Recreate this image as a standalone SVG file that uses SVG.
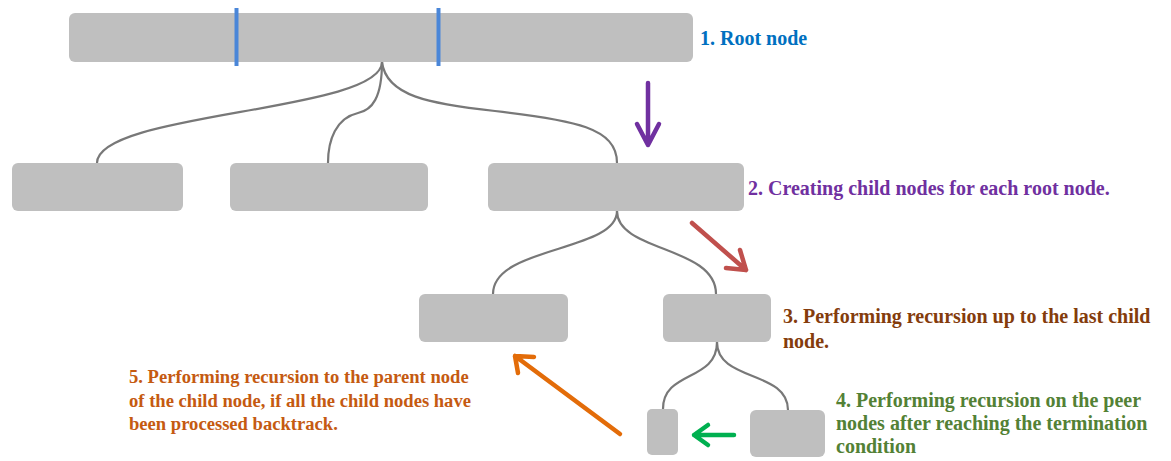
<svg xmlns="http://www.w3.org/2000/svg" width="1171" height="461" viewBox="0 0 1171 461">
<style>
.node{fill:#BFBFBF}
.link{fill:none;stroke:#787878;stroke-width:2.2}
.t{font-family:"Liberation Serif","Times New Roman",serif;font-weight:bold;font-size:20px}
.t5{font-size:18.6px}
.arr{fill:none;stroke-width:4.5;stroke-linecap:round;stroke-linejoin:round}
</style>
<rect width="1171" height="461" fill="#FFFFFF"/>
<g id="connectors">
<path class="link" d="M382,62 C382,112 97,112 97,163"/>
<path class="link" d="M382,62 C382,98 372,110 358,113 C336,118 328,140 328,163"/>
<path class="link" d="M382,62 C386,96 430,104 495,111 C575,120 617,128 617,163"/>
<path class="link" d="M617,211 C617,252 493,246 493,294"/>
<path class="link" d="M617,211 C617,252 716,246 716,294"/>
<path class="link" d="M717,342 C717,382 663,370 663,409"/>
<path class="link" d="M717,342 C717,382 788,370 788,410"/>
</g>
<g id="root">
<rect class="node" x="69" y="13" width="624" height="49" rx="6"/>
<line x1="236.5" y1="8" x2="236.5" y2="66" stroke="#4A86D8" stroke-width="4"/>
<line x1="438.5" y1="8" x2="438.5" y2="66" stroke="#4A86D8" stroke-width="4"/>
</g>
<g id="nodeA"><rect class="node" x="12" y="163" width="171" height="48" rx="6"/></g>
<g id="nodeB"><rect class="node" x="230" y="163" width="198" height="48" rx="6"/></g>
<g id="nodeC"><rect class="node" x="488" y="163" width="256" height="48" rx="6"/></g>
<g id="nodeD"><rect class="node" x="419" y="294" width="149" height="48" rx="6"/></g>
<g id="nodeE"><rect class="node" x="663" y="294" width="108" height="48" rx="6"/></g>
<g id="nodeF"><rect class="node" x="647" y="409" width="31" height="46" rx="5"/></g>
<g id="nodeG"><rect class="node" x="750" y="410" width="75" height="47" rx="6"/></g>
<g id="arrows">
<path class="arr" stroke="#7030A0" d="M648,83 L648,145 M637,124 L648,145 L659,124"/>
<path class="arr" stroke="#C0504D" d="M692,223 L746,270 M726,268 L746,270 L740,250"/>
<path class="arr" stroke="#E36C09" d="M620,434 L515,356 M518,373 L515,356 L534,357"/>
<path class="arr" stroke="#00B050" d="M734,435 L694,435 M708,425 L694,435 L708,445"/>
</g>
<g id="labels">
<text class="t" x="700" y="45" fill="#0070C0">1. Root node</text>
<text class="t" x="748" y="195" fill="#7030A0">2. Creating child nodes for each root node.</text>
<text class="t" x="783" y="323" fill="#843C0C">3. Performing recursion up to the last child</text>
<text class="t" x="783" y="348" fill="#843C0C">node.</text>
<text class="t" x="836" y="407" fill="#538135">4. Performing recursion on the peer</text>
<text class="t" x="836" y="430" fill="#538135">nodes after reaching the termination</text>
<text class="t" x="836" y="453" fill="#538135">condition</text>
<text class="t t5" x="129" y="383" fill="#C55A11">5. Performing recursion to the parent node</text>
<text class="t t5" x="129" y="407" fill="#C55A11">of the child node, if all the child nodes have</text>
<text class="t t5" x="129" y="430" fill="#C55A11">been processed backtrack.</text>
</g>
</svg>
